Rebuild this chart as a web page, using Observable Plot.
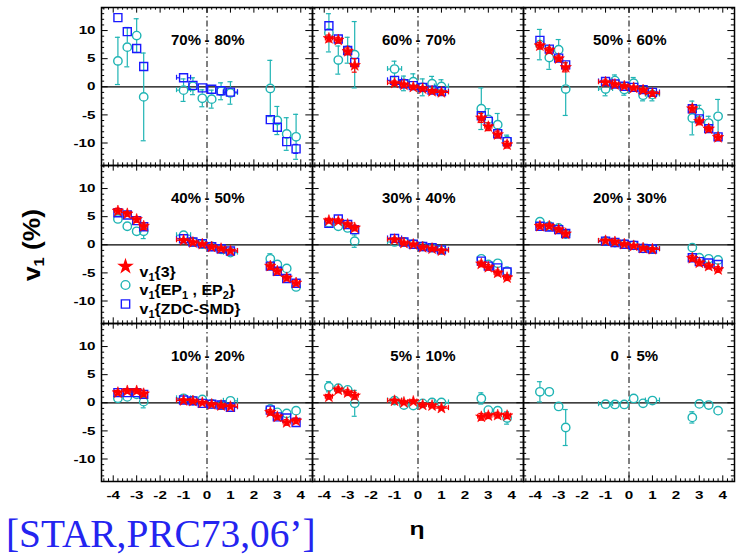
<!DOCTYPE html>
<html>
<head>
<meta charset="utf-8">
<script src="https://cdn.jsdelivr.net/npm/d3@7"></script>
<script src="https://cdn.jsdelivr.net/npm/@observablehq/plot@0.6"></script>
<style>
  html, body { margin: 0; padding: 0; background: #fff; }
  #wrap { position: relative; width: 736px; height: 556px; overflow: hidden; background: #fff;
          font-family: "Liberation Sans", Arial, sans-serif; }
  #wrap svg { position: absolute; left: 0; top: 0; }
  .ylab { position: absolute; left: 31px; top: 245px; white-space: nowrap; font-weight: bold; font-size: 24px;
          line-height: 27px; transform: translate(-50%, -50%) rotate(-90deg) scaleX(1.1); color: #000; z-index: 2; }
  .ylab sub { font-size: 62%; vertical-align: -0.3em; line-height: 0; }
  .xlab { position: absolute; left: 417px; top: 529px; white-space: nowrap; font-weight: bold; font-size: 19px;
          line-height: 22px; transform: translate(-50%, -50%) scaleX(1.3); color: #000; z-index: 2; }
  .cap { position: absolute; left: 6px; top: 513px; white-space: nowrap; font-family: "Liberation Serif", "Times New Roman", serif;
         font-size: 41px; line-height: 41px; color: #2424f0; transform-origin: left center; transform: scaleX(0.96); z-index: 2; }
</style>
</head>
<body>
<div id="wrap">
  <div class="ylab">v<sub>1</sub> (%)</div>
  <div class="xlab">η</div>
  <div class="cap">[STAR,PRC73,06’]</div>
</div>
<script>
// ---------------- data ----------------
const panelLeft  = ["70%", "60%", "50%", "40%", "30%", "20%", "10%", "5%", "0\u00a0"];
const panelRight = ["80%", "70%", "60%", "50%", "40%", "30%", "20%", "10%", "5%"];

const eta    = [-3.8, -3.4, -3.0, -2.7, -1.0, -0.6, -0.2, 0.2, 0.6, 1.0, 2.7, 3.0, 3.4, 3.8];
const etaErr = [0.15, 0.15, 0.15, 0.15, 0.3, 0.15, 0.15, 0.15, 0.15, 0.3, 0.15, 0.15, 0.15, 0.15];

const xTickLabels = [-4, -3, -2, -1, 0, 1, 2, 3, 4];
const yTickLabels = [-10, -5, 0, 5, 10];

// v1{3}  (red stars), one row per centrality panel
const v1_3 = [
  null,
  [8.6, 8.3, 6.3, 3.8, 0.65, 0.35, -0.05, -0.35, -0.8, -1.0, -5.55, -7.1, -8.5, -10.3],
  [7.3, 6.5, 5.0, 3.45, 0.8, 0.4, 0.1, -0.2, -0.6, -1.2, -3.9, -6.15, -7.5, -9.0],
  [6.0, 5.5, 4.5, 3.3, 0.8, 0.4, 0.1, -0.4, -0.7, -1.1, -3.8, -4.7, -5.9, -6.8],
  [4.3, 4.2, 3.6, 3.0, 0.9, 0.3, 0.05, -0.45, -0.7, -1.05, -3.4, -4.0, -5.0, -5.85],
  [3.3, 3.3, 2.7, 1.95, 0.7, 0.5, 0.1, -0.2, -0.6, -0.8, -2.4, -3.2, -3.8, -4.4],
  [1.8, 2.1, 2.1, 1.6, 0.4, 0.3, 0.0, -0.3, -0.5, -0.7, -1.7, -2.5, -3.5, -3.2],
  [1.07, 2.3, 1.8, 1.25, 0.35, 0.06, 0.23, -0.4, -0.5, -0.95, -2.5, -2.3, -2.2, -2.3],
  null
];
const v1_3Err = [
  null,
  [0.6, 0.5, 0.6, 1.2, 0.4, 0.3, 0.3, 0.3, 0.3, 0.4, 0.8, 0.7, 0.6, 0.6],
  [0.6, 0.5, 0.5, 0.8, 0.4, 0.3, 0.3, 0.3, 0.3, 0.4, 0.6, 0.6, 0.5, 0.5],
  [0.5, 0.4, 0.5, 0.6, 0.3, 0.3, 0.2, 0.2, 0.3, 0.3, 0.6, 0.5, 0.5, 0.5],
  [0.4, 0.4, 0.4, 0.5, 0.3, 0.2, 0.2, 0.2, 0.2, 0.3, 0.5, 0.5, 0.5, 0.5],
  [0.4, 0.4, 0.4, 0.5, 0.3, 0.2, 0.2, 0.2, 0.2, 0.3, 0.5, 0.5, 0.5, 0.5],
  [0.4, 0.4, 0.4, 0.5, 0.3, 0.2, 0.2, 0.2, 0.2, 0.3, 0.5, 0.5, 0.5, 0.5],
  [0.4, 0.5, 0.5, 0.6, 0.3, 0.3, 0.3, 0.3, 0.3, 0.3, 0.6, 0.5, 0.5, 0.5],
  null
];

// v1{EP1, EP2}  (teal circles)
const v1_EP = [
  [4.6, 7.05, 9.1, -1.8, -0.6, 0.1, -2.05, -2.2, -0.8, -1.1, -0.3, -6.0, -8.4, -8.9],
  [9.6, 4.75, 6.5, 5.7, 3.15, 0.6, 0.9, -0.1, 0.55, 0.05, -3.9, -5.8, -6.75, -9.6],
  [7.5, 5.2, 6.6, -0.4, -0.4, 1.1, -0.5, 0.65, -1.5, -1.4, -5.55, -4.6, -6.45, -5.25],
  [4.6, 3.3, 2.4, 2.4, 1.7, 0.5, 0.1, -0.3, -0.8, -1.4, -2.5, -3.5, -4.2, -7.5],
  [3.9, 3.3, 3.0, 0.65, 0.5, 0.5, 0.1, -0.3, -0.5, -0.9, -2.5, -3.5, -3.3, -4.7],
  [4.1, 3.3, 3.0, 1.9, 0.65, 0.4, 0.1, -0.1, -0.65, -0.75, -0.5, -2.3, -2.5, -2.7],
  [0.8, 1.05, 1.5, 0.2, 0.8, 0.4, 0.6, -0.2, -0.4, 0.35, -1.1, -1.7, -1.9, -1.4],
  [2.85, 2.6, 2.3, -0.1, 0.4, -0.4, -0.5, -0.1, 0.06, 0.06, 0.77, -1.3, -1.4, -2.7],
  [1.95, 1.95, -0.65, -4.4, -0.25, -0.3, -0.3, 0.77, -0.1, 0.4, -2.6, -0.2, -0.4, -1.4]
];
const v1_EPErr = [
  [4.2, 3.5, 3.0, 7.8, 2.0, 1.5, 1.5, 1.6, 1.5, 2.0, 5.0, 2.5, 2.9, 4.0],
  [3.4, 2.5, 2.3, 5.9, 1.4, 1.3, 1.4, 1.5, 1.3, 1.2, 3.7, 1.9, 2.0, 1.0],
  [2.7, 2.1, 1.8, 4.7, 1.2, 1.0, 1.0, 1.0, 1.0, 1.1, 3.0, 1.3, 1.2, 3.0],
  [0.8, 0.6, 0.6, 1.3, 0.6, 0.5, 0.5, 0.5, 0.5, 0.6, 0.9, 0.7, 0.7, 0.8],
  [0.6, 0.5, 0.5, 1.1, 0.4, 0.4, 0.4, 0.4, 0.4, 0.4, 0.6, 0.5, 0.5, 0.6],
  [0.6, 0.5, 0.5, 0.8, 0.4, 0.4, 0.4, 0.4, 0.4, 0.4, 0.7, 0.6, 0.6, 0.7],
  [0.6, 0.5, 0.5, 1.1, 0.4, 0.4, 0.4, 0.4, 0.4, 0.5, 0.6, 0.6, 0.6, 0.6],
  [0.9, 0.6, 0.6, 2.3, 0.4, 0.4, 0.4, 0.4, 0.4, 0.4, 1.0, 0.6, 0.6, 1.1],
  [1.8, 0.8, 0.7, 3.2, 0.3, 0.3, 0.3, 0.3, 0.3, 0.3, 1.0, 0.6, 0.6, 0.8]
];

// v1{ZDC-SMD}  (blue squares)
const v1_ZDC = [
  [12.3, 9.8, 6.8, 3.6, 1.6, 0.25, -0.2, -0.45, -0.7, -0.95, -5.85, -7.2, -9.75, -11.05],
  [10.85, 8.5, 6.45, 4.35, 1.15, 0.55, 0.2, -0.1, -0.6, -0.85, -5.15, -6.15, -8.35, -9.75],
  [8.25, 6.7, 5.1, 3.9, 0.95, 0.5, 0.1, -0.1, -0.5, -1.0, -3.9, -5.7, -7.45, -8.9],
  [5.7, 5.3, 4.3, 3.2, 1.07, 0.5, 0.2, -0.35, -0.7, -1.1, -3.8, -4.7, -6.0, -6.85],
  [3.8, 4.6, 3.6, 2.7, 1.13, 0.5, 0.1, -0.3, -0.5, -0.9, -2.9, -3.8, -4.1, -4.85],
  [3.3, 3.15, 2.7, 2.0, 0.65, 0.4, 0.1, -0.1, -0.65, -0.75, -2.3, -3.0, -3.25, -3.5],
  [1.8, 1.8, 1.8, 1.5, 0.5, 0.35, -0.1, -0.25, -0.4, -0.8, -1.3, -2.5, -2.7, -3.5],
  null,
  null
];
const v1_ZDCErr = [
  [0.6, 0.6, 0.6, 0.6, 0.4, 0.4, 0.4, 0.4, 0.4, 0.4, 0.6, 0.7, 0.7, 0.8],
  [0.5, 0.5, 0.5, 0.5, 0.3, 0.3, 0.3, 0.3, 0.3, 0.3, 0.5, 0.5, 0.5, 0.5],
  [0.4, 0.4, 0.4, 0.4, 0.3, 0.3, 0.3, 0.3, 0.3, 0.3, 0.4, 0.4, 0.4, 0.4],
  [0.4, 0.4, 0.4, 0.4, 0.3, 0.3, 0.3, 0.3, 0.3, 0.3, 0.4, 0.4, 0.4, 0.4],
  [0.4, 0.4, 0.4, 0.4, 0.3, 0.3, 0.3, 0.3, 0.3, 0.3, 0.4, 0.4, 0.4, 0.4],
  [0.4, 0.4, 0.4, 0.4, 0.3, 0.3, 0.3, 0.3, 0.3, 0.3, 0.4, 0.4, 0.4, 0.4],
  [0.4, 0.4, 0.4, 0.4, 0.3, 0.3, 0.3, 0.3, 0.3, 0.3, 0.4, 0.4, 0.4, 0.4],
  null,
  null
];

const legendLabels = ["v\u2081{3}", "v\u2081{EP\u2081 , EP\u2082}", "v\u2081{ZDC-SMD}"];

// ---------------- layout ----------------
const W = 736, H = 556, ML = 100, MR = 2, MT = 6, MB = 75;
const FW = (W - ML - MR) / 3, FH = (H - MT - MB) / 3;
const yDom = [-14, 14.1], xDom = [-4.5, 4.5];
const pxY = FH / (yDom[1] - yDom[0]), pxX = FW / (xDom[1] - xDom[0]);

const teal = "#1fb4b4", blue = "#1a1aff", red = "#ff0000";

function rowsOf(vals, errs) {
  const out = [];
  vals.forEach((arr, p) => {
    if (!arr) return;
    arr.forEach((v, i) => out.push({fx: p % 3, fy: Math.floor(p / 3), eta: eta[i], xerr: etaErr[i], v, err: errs[p][i]}));
  });
  return out;
}
const rowsStar = rowsOf(v1_3, v1_3Err);
const rowsEP = rowsOf(v1_EP, v1_EPErr);
const rowsZDC = rowsOf(v1_ZDC, v1_ZDCErr);

function errMarks(rows, color, gap) {
  const o = {fx: "fx", fy: "fy", stroke: color, strokeWidth: 1.2};
  const vy = rows.filter(d => d.err * pxY > gap + 0.5);
  const vx = rows.filter(d => d.xerr * pxX > gap + 0.5);
  return [
    Plot.ruleX(vy, {...o, x: "eta", y1: d => d.v + d.err, y2: "v", insetBottom: gap}),
    Plot.ruleX(vy, {...o, x: "eta", y1: "v", y2: d => d.v - d.err, insetTop: gap}),
    Plot.ruleY(vx, {...o, y: "v", x1: d => d.eta - d.xerr, x2: "eta", insetRight: gap}),
    Plot.ruleY(vx, {...o, y: "v", x1: "eta", x2: d => d.eta + d.xerr, insetLeft: gap}),
    Plot.ruleY(vy, {...o, y: d => d.v + d.err, x1: "eta", x2: "eta", insetLeft: -2.5, insetRight: -2.5}),
    Plot.ruleY(vy, {...o, y: d => d.v - d.err, x1: "eta", x2: "eta", insetLeft: -2.5, insetRight: -2.5}),
    Plot.ruleX(vx, {...o, x: d => d.eta - d.xerr, y1: "v", y2: "v", insetTop: -2.5, insetBottom: -2.5}),
    Plot.ruleX(vx, {...o, x: d => d.eta + d.xerr, y1: "v", y2: "v", insetTop: -2.5, insetBottom: -2.5})
  ];
}

const xMinor = d3.range(-44, 45, 2).map(d => d / 10).filter(d => !Number.isInteger(d));
const yMinor = d3.range(-13, 15).filter(d => d % 5 !== 0);

const panels = panelLeft.map((l, i) => ({fx: i % 3, fy: Math.floor(i / 3), left: l, right: panelRight[i]}));
const legendAt = [{fx: 0, fy: 1}];
const legendDy = [101, 119.5, 138.5];

const labelFont = {fontSize: 15, fontWeight: "bold", fill: "black", frameAnchor: "top", dy: 27, fx: "fx", fy: "fy"};

const chart = Plot.plot({
  width: W, height: H,
  marginLeft: ML, marginRight: MR, marginTop: MT, marginBottom: MB,
  facet: {marginTop: 0, marginRight: 0, marginBottom: 0, marginLeft: 0},
  fx: {domain: [0, 1, 2], padding: 0, axis: null},
  fy: {domain: [0, 1, 2], padding: 0, axis: null},
  x: {domain: xDom, axis: null},
  y: {domain: yDom, axis: null},
  style: {fontFamily: "'Liberation Sans', Arial, sans-serif", background: "transparent", color: "black", overflow: "visible"},
  marks: [
    Plot.ruleY([0], {stroke: "black", strokeWidth: 1.2}),
    Plot.ruleX([0], {stroke: "black", strokeWidth: 1, strokeDasharray: "6,3,1.5,3"}),

    ...errMarks(rowsEP, teal, 4.2),
    Plot.dot(rowsEP, {fx: "fx", fy: "fy", x: "eta", y: "v", r: 4.2, stroke: teal, fill: "none", strokeWidth: 1.4}),
    ...errMarks(rowsZDC, blue, 4),
    Plot.dot(rowsZDC, {fx: "fx", fy: "fy", x: "eta", y: "v", symbol: "square", r: 4.5, stroke: blue, fill: "none", strokeWidth: 1.4}),
    ...errMarks(rowsStar, red, 0),
    Plot.dot(rowsStar, {fx: "fx", fy: "fy", x: "eta", y: "v", symbol: "star", r: 3.6, fill: red, stroke: red, strokeWidth: 0.6}),

    // inward ticks on all four sides
    Plot.tickX(xTickLabels, {x: d => d, insetTop: FH - 6, stroke: "black"}),
    Plot.tickX(xTickLabels, {x: d => d, insetBottom: FH - 6, stroke: "black"}),
    Plot.tickX(xMinor, {x: d => d, insetTop: FH - 3, stroke: "black"}),
    Plot.tickX(xMinor, {x: d => d, insetBottom: FH - 3, stroke: "black"}),
    Plot.tickY(yTickLabels, {y: d => d, insetRight: FW - 7, stroke: "black"}),
    Plot.tickY(yTickLabels, {y: d => d, insetLeft: FW - 7, stroke: "black"}),
    Plot.tickY(yMinor, {y: d => d, insetRight: FW - 3.5, stroke: "black"}),
    Plot.tickY(yMinor, {y: d => d, insetLeft: FW - 3.5, stroke: "black"}),
    Plot.frame({stroke: "black", strokeWidth: 1.5}),

    Plot.axisX(xTickLabels, {anchor: "bottom", tickSize: 0, tickPadding: 9, fontSize: 11.5, fontWeight: "bold", label: null, tickFormat: d => String(d)}),
    Plot.axisY(yTickLabels, {anchor: "left", tickSize: 0, tickPadding: 6, fontSize: 11.5, fontWeight: "bold", label: null, tickFormat: d => String(d)}),

    // panel labels
    Plot.text(panels, {...labelFont, text: "left", textAnchor: "end", dx: -6}),
    Plot.text(panels, {...labelFont, text: () => "-"}),
    Plot.text(panels, {...labelFont, text: "right", textAnchor: "start", dx: 7.5}),

    // legend (in the 40% - 50% panel)
    Plot.dot(legendAt, {fx: "fx", fy: "fy", frameAnchor: "top-left", dx: 24, dy: legendDy[0], symbol: "star", r: 3.8, fill: red, stroke: red}),
    Plot.dot(legendAt, {fx: "fx", fy: "fy", frameAnchor: "top-left", dx: 24, dy: legendDy[1], r: 4.4, stroke: teal, fill: "none", strokeWidth: 1.4}),
    Plot.dot(legendAt, {fx: "fx", fy: "fy", frameAnchor: "top-left", dx: 24, dy: legendDy[2], symbol: "square", r: 4.7, stroke: blue, fill: "none", strokeWidth: 1.4}),
    ...legendLabels.map((lab, i) => Plot.text(legendAt, {fx: "fx", fy: "fy", frameAnchor: "top-left", dx: 38, dy: legendDy[i],
      text: () => lab, textAnchor: "start", fontSize: 14.5, fontWeight: "bold", fill: "black"}))
  ]
});

document.getElementById("wrap").appendChild(chart);

// widen the tick labels like the original (stretched glyphs)
d3.select(chart).selectAll('g[aria-label="x-axis tick label"] text, g[aria-label="y-axis tick label"] text').each(function () {
  const t = this.getAttribute("transform");
  if (t) this.setAttribute("transform", t + " scale(1.32,1)");
});

// legend texts: real subscripts via tspans, slightly widened glyphs
const SVGNS = "http://www.w3.org/2000/svg";
d3.select(chart).selectAll("text").filter(function () { return this.textContent.startsWith("v\u2081"); }).each(function () {
  const s = this.textContent;
  const segs = [];
  for (const ch of s) {
    const c = ch.charCodeAt(0);
    const sub = c >= 0x2080 && c <= 0x2089;
    const txt = sub ? String(c - 0x2080) : ch;
    if (segs.length && segs[segs.length - 1].sub === sub) segs[segs.length - 1].t += txt;
    else segs.push({sub, t: txt});
  }
  this.textContent = "";
  let shifted = false;
  for (const g of segs) {
    const ts = document.createElementNS(SVGNS, "tspan");
    ts.textContent = g.t;
    if (g.sub) { ts.setAttribute("font-size", "10"); ts.setAttribute("dy", "4"); shifted = true; }
    else if (shifted) { ts.setAttribute("dy", "-4"); shifted = false; }
    this.appendChild(ts);
  }
  const t = this.getAttribute("transform");
  if (t) this.setAttribute("transform", t + " scale(1.1,1)");
});
</script>
</body>
</html>
